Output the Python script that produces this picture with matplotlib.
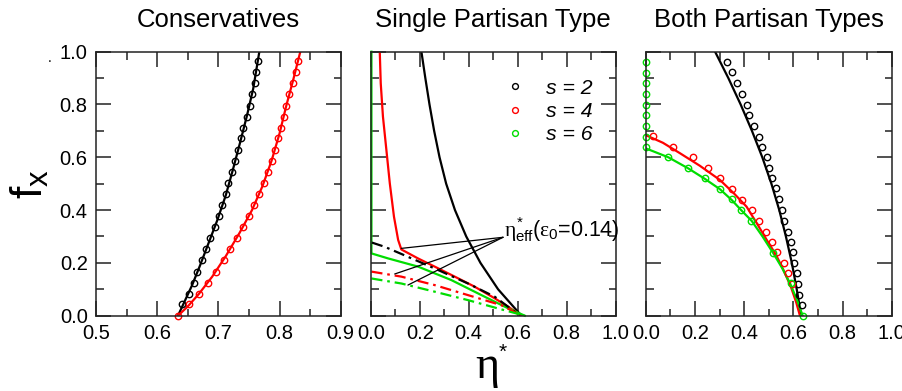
import matplotlib
matplotlib.use("Agg")
import matplotlib.pyplot as plt
from matplotlib.ticker import MultipleLocator, FormatStrFormatter
from matplotlib.lines import Line2D

plt.rcParams['font.family'] = ['Liberation Sans', 'DejaVu Sans']
plt.rcParams['mathtext.fontset'] = 'custom'
plt.rcParams['mathtext.rm'] = 'Liberation Sans'
plt.rcParams['mathtext.sf'] = 'Liberation Sans'
plt.rcParams['mathtext.it'] = 'Liberation Serif'
plt.rcParams['mathtext.bf'] = 'Liberation Sans:bold'

# ---------------- data ----------------
titles = ["Conservatives", "Single Partisan Type", "Both Partisan Types"]
legend_labels = ["s = 2", "s = 4", "s = 6"]
annot_label = r'$\eta^{*}_{\mathrm{eff}}(\varepsilon_{0}$=0.14)'

# Panel 1: Conservatives (theory lines)
cons_s2_line_x = [0.634, 0.645, 0.657, 0.670, 0.684, 0.698, 0.712, 0.724, 0.736, 0.747, 0.757, 0.767]
cons_s2_line_f = [0.0, 0.055, 0.115, 0.19, 0.275, 0.36, 0.455, 0.555, 0.66, 0.76, 0.86, 1.0]
cons_s4_line_x = [0.634, 0.650, 0.668, 0.690, 0.712, 0.735, 0.755, 0.772, 0.787, 0.800, 0.811, 0.822, 0.834]
cons_s4_line_f = [0.0, 0.035, 0.082, 0.148, 0.225, 0.315, 0.40, 0.49, 0.587, 0.69, 0.795, 0.89, 1.0]
# Panel 1: simulation points
cons_s2_pts_x = [0.6404, 0.6519, 0.6596, 0.6656, 0.6738, 0.6798, 0.6869, 0.6945, 0.7005, 0.7066, 0.7131,
                 0.7164, 0.7224, 0.7268, 0.7322, 0.7372, 0.7410, 0.7470, 0.7514, 0.7557, 0.7596, 0.7623, 0.7650]
cons_s2_pts_f = [0.043, 0.081, 0.125, 0.167, 0.211, 0.253, 0.293, 0.335, 0.378, 0.418, 0.462,
                 0.504, 0.545, 0.587, 0.628, 0.672, 0.712, 0.754, 0.795, 0.838, 0.880, 0.924, 0.965]
cons_s4_pts_x = [0.634, 0.6525, 0.668, 0.6825, 0.696, 0.7087, 0.7197, 0.7306, 0.7404, 0.7497, 0.759, 0.7672,
                 0.7743, 0.7809, 0.7869, 0.7923, 0.7973, 0.8022, 0.8066, 0.8109, 0.8158, 0.8213, 0.8262, 0.8306]
cons_s4_pts_f = [0.0, 0.043, 0.082, 0.125, 0.167, 0.211, 0.251, 0.293, 0.335, 0.378, 0.419, 0.461,
                 0.504, 0.545, 0.587, 0.628, 0.672, 0.712, 0.754, 0.795, 0.838, 0.880, 0.924, 0.965]

# Panel 2: Single partisan type (solid lines)
single_s2_x = [0.207, 0.223, 0.240, 0.259, 0.281, 0.308, 0.344, 0.390, 0.448, 0.520, 0.615]
single_s2_f = [1.0, 0.9, 0.8, 0.7, 0.6, 0.5, 0.4, 0.3, 0.2, 0.1, 0.0]
single_s4_x = [0.037, 0.041, 0.050, 0.064, 0.078, 0.095, 0.112, 0.125, 0.193, 0.261, 0.343, 0.424, 0.506, 0.561, 0.615]
single_s4_f = [1.0, 0.88, 0.754, 0.628, 0.501, 0.375, 0.287, 0.251, 0.217, 0.186, 0.148, 0.110, 0.066, 0.034, 0.0]
single_s6_x = [0.003, 0.003, 0.071, 0.193, 0.329, 0.465, 0.561, 0.629]
single_s6_f = [1.0, 0.236, 0.217, 0.186, 0.135, 0.072, 0.028, 0.0]
# Panel 2: eta_eff (dash-dot lines)
eff_s2_x = [0.005, 0.057, 0.125, 0.261, 0.397, 0.506, 0.588, 0.608]
eff_s2_f = [0.277, 0.261, 0.234, 0.179, 0.122, 0.072, 0.015, 0.0]
eff_s4_x = [0.003, 0.125, 0.261, 0.397, 0.533, 0.615]
eff_s4_f = [0.167, 0.148, 0.116, 0.078, 0.040, 0.0]
eff_s6_x = [0.003, 0.125, 0.261, 0.397, 0.533, 0.629]
eff_s6_f = [0.141, 0.122, 0.091, 0.059, 0.024, 0.0]

# Panel 3: Both partisan types (theory lines)
both_s2_line_x = [0.282, 0.336, 0.386, 0.432, 0.474, 0.511, 0.543, 0.570, 0.594, 0.614, 0.632]
both_s2_line_f = [1.0, 0.9, 0.8, 0.7, 0.6, 0.5, 0.4, 0.3, 0.2, 0.1, 0.0]
both_s4_line_x = [0.0, 0.07, 0.14, 0.22, 0.302, 0.36, 0.41, 0.455, 0.492, 0.53, 0.56, 0.59, 0.612, 0.627]
both_s4_line_f = [0.684, 0.655, 0.615, 0.568, 0.514, 0.462, 0.413, 0.345, 0.287, 0.23, 0.173, 0.11, 0.05, 0.0]
both_s6_line_x = [0.0, 0.092, 0.173, 0.241, 0.302, 0.35, 0.39, 0.431, 0.475, 0.519, 0.555, 0.587, 0.615, 0.638]
both_s6_line_f = [0.634, 0.600, 0.558, 0.518, 0.479, 0.438, 0.398, 0.359, 0.30, 0.236, 0.18, 0.122, 0.06, 0.0]
# Panel 3: simulation points
both_s2_pts_x = [0.329, 0.350, 0.370, 0.390, 0.411, 0.421, 0.440, 0.461, 0.472, 0.492, 0.503, 0.512,
                 0.528, 0.542, 0.553, 0.564, 0.578, 0.589, 0.598, 0.604, 0.614, 0.621, 0.625, 0.634]
both_s2_pts_f = [0.962, 0.922, 0.880, 0.840, 0.799, 0.759, 0.718, 0.678, 0.640, 0.602, 0.561, 0.522,
                 0.482, 0.441, 0.400, 0.359, 0.318, 0.280, 0.242, 0.201, 0.160, 0.119, 0.078, 0.040]
both_s4_pts_x = [0.031, 0.112, 0.194, 0.252, 0.300, 0.350, 0.390, 0.431, 0.461, 0.489, 0.512, 0.533,
                 0.562, 0.580, 0.593]
both_s4_pts_f = [0.681, 0.640, 0.602, 0.561, 0.522, 0.480, 0.438, 0.400, 0.359, 0.318, 0.280, 0.242,
                 0.201, 0.160, 0.119]
both_s6_pts_x = [0.003, 0.003, 0.003, 0.003, 0.003, 0.003, 0.003, 0.003, 0.003, 0.092, 0.171, 0.241,
                 0.302, 0.350, 0.388, 0.428, 0.516, 0.589, 0.638]
both_s6_pts_f = [0.960, 0.920, 0.880, 0.838, 0.799, 0.759, 0.718, 0.678, 0.640, 0.600, 0.558, 0.520,
                 0.480, 0.441, 0.400, 0.359, 0.236, 0.122, 0.0]

# ---------------- style ----------------
BLACK, RED, GREEN = "#000000", "#ff0000", "#00dd00"
LW = 1.6
MS = 4.6
MEW = 1.0
DASHDOT = (5, 2.2, 1.2, 2.2)

W, H = 902, 391
fig = plt.figure(figsize=(W / 100, H / 100), dpi=100)

top_px, bot_px = 51.7, 315.7
panels_px = [(96.0, 340.7), (370.7, 615.7), (645.7, 891.7)]
axes = []
for (l, r) in panels_px:
    ax = fig.add_axes([l / W, 1 - bot_px / H, (r - l) / W, (bot_px - top_px) / H])
    axes.append(ax)

xlims = [(0.5, 0.9), (0.0, 1.0), (0.0, 1.0)]
xmaj = [0.1, 0.2, 0.2]
xmin = [0.05, 0.1, 0.1]
for i, ax in enumerate(axes):
    ax.set_xlim(*xlims[i])
    ax.set_ylim(0, 1.0)
    ax.xaxis.set_major_locator(MultipleLocator(xmaj[i]))
    ax.xaxis.set_minor_locator(MultipleLocator(xmin[i]))
    ax.yaxis.set_major_locator(MultipleLocator(0.2))
    ax.yaxis.set_minor_locator(MultipleLocator(0.1))
    ax.xaxis.set_major_formatter(FormatStrFormatter('%.1f'))
    ax.yaxis.set_major_formatter(FormatStrFormatter('%.1f'))
    ax.tick_params(which='both', direction='in', top=True, right=True, width=1.1, color='#222222')
    ax.tick_params(which='major', length=10.5, labelsize=14.5, pad=6)
    ax.tick_params(which='minor', length=5.4)
    if i > 0:
        ax.tick_params(labelleft=False)
    for sp in ax.spines.values():
        sp.set_linewidth(1.1)
        sp.set_color('#222222')
    ax.set_title(titles[i], fontsize=18.5, pad=18)

# Panel 1
ax = axes[0]
ax.plot(cons_s2_line_x, cons_s2_line_f, color=BLACK, lw=LW)
ax.plot(cons_s4_line_x, cons_s4_line_f, color=RED, lw=LW)
ax.plot(cons_s2_pts_x, cons_s2_pts_f, 'o', mfc='none', mec=BLACK, ms=MS, mew=MEW, clip_on=False)
ax.plot(cons_s4_pts_x, cons_s4_pts_f, 'o', mfc='none', mec=RED, ms=MS, mew=MEW, clip_on=False)

# Panel 2
ax = axes[1]
ax.plot(single_s2_x, single_s2_f, color=BLACK, lw=LW)
ax.plot(single_s4_x, single_s4_f, color=RED, lw=LW)
ax.plot(single_s6_x, single_s6_f, color=GREEN, lw=LW, clip_on=False)
ax.plot(eff_s2_x, eff_s2_f, color=BLACK, lw=LW, dashes=DASHDOT)
ax.plot(eff_s4_x, eff_s4_f, color=RED, lw=LW, dashes=DASHDOT)
ax.plot(eff_s6_x, eff_s6_f, color=GREEN, lw=LW, dashes=DASHDOT)
handles = [Line2D([], [], ls='none', marker='o', mfc='none', mec=c, ms=4.2, mew=MEW)
           for c in (BLACK, RED, GREEN)]
ax.legend(handles, legend_labels, loc='upper left', bbox_to_anchor=(0.545, 0.897),
          frameon=False, borderpad=0, handlelength=1.0, handletextpad=0.95,
          labelspacing=0.2, borderaxespad=0,
          prop={'family': 'Liberation Sans', 'style': 'italic', 'size': 15.3})
src = (0.540, 0.297)
for tgt in [(0.125, 0.255), (0.098, 0.158), (0.152, 0.116)]:
    ax.annotate('', xy=tgt, xytext=src,
                arrowprops=dict(arrowstyle='-', color='black', lw=0.9,
                                shrinkA=0, shrinkB=0))
ax.text(0.545, 0.297, annot_label, fontsize=15.5, ha='left', va='baseline',
        transform=ax.transData, clip_on=False)

# Panel 3
ax = axes[2]
ax.plot(both_s2_line_x, both_s2_line_f, color=BLACK, lw=LW)
ax.plot(both_s4_line_x, both_s4_line_f, color=RED, lw=LW)
ax.plot(both_s6_line_x, both_s6_line_f, color=GREEN, lw=LW)
ax.plot(both_s2_pts_x, both_s2_pts_f, 'o', mfc='none', mec=BLACK, ms=MS, mew=MEW, clip_on=False)
ax.plot(both_s4_pts_x, both_s4_pts_f, 'o', mfc='none', mec=RED, ms=MS, mew=MEW, clip_on=False)
ax.plot(both_s6_pts_x, both_s6_pts_f, 'o', mfc='none', mec=GREEN, ms=MS, mew=MEW, clip_on=False)

# Axis labels
fig.text(30 / W, 1 - 184 / H, r'$\mathrm{f}_{\mathrm{x}}$', fontsize=32, rotation=90,
         ha='center', va='center')
fig.text(487 / W, 1 - 389.5 / H, r'$\eta$', fontsize=33, ha='center', va='bottom')
fig.text(503 / W, 1 - 352 / H, '*', fontsize=15, ha='center', va='center')
fig.text(50 / W, 1 - 58 / H, '.', fontsize=10, ha='center', va='center')

fig.savefig('out.png', dpi=100)
